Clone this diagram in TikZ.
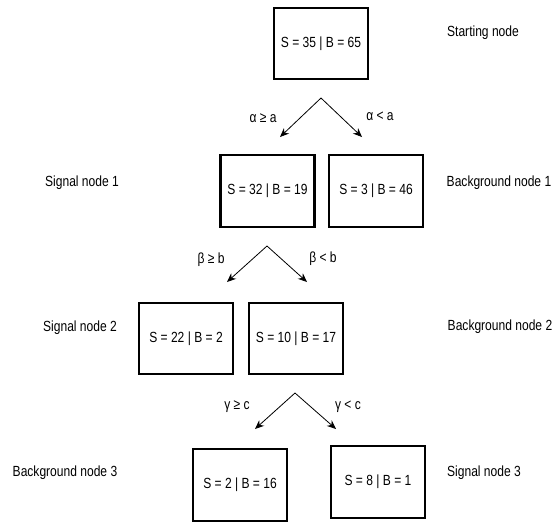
\documentclass[tikz,border=0pt]{standalone}
\usepackage{fontspec}
\setmainfont{Liberation Sans}[FakeStretch=0.82]
\usetikzlibrary{arrows.meta}
\tikzset{
  split/.style={draw,line width=2.4pt,minimum width=94pt,minimum height=71.5pt,inner sep=0pt},
  cut/.style={-{Stealth[length=9pt,width=7.5pt]},line width=0.8pt},
  txt/.style={inner sep=0pt,font=\fontsize{14.7}{16}\selectfont}
}
\begin{document}
\begin{tikzpicture}[x=1pt,y=-1pt,every node/.append style={font=\fontsize{14.7}{16}\selectfont}]
\useasboundingbox (0,0) rectangle (554,523);
% boxes
\node[split] (root) at (321,43.5) {S = 35 | B = 65};
\node[split] (sig1) at (267.5,191) {S = 32 | B = 19};
\node[split] (bkg1) at (376,191) {S = 3 | B = 46};
\node[split] (sig2) at (186,338.5) {S = 22 | B = 2};
\node[split] (bkg2) at (296,338.5) {S = 10 | B = 17};
\node[split] (bkg3) at (240,485) {S = 2 | B = 16};
\node[split] (sig3) at (378,482) {S = 8 | B = 1};
% side labels
\node[txt] (lroot) at (483,33) {Starting node};
\node[txt] (lsig1) at (82,183) {Signal node 1};
\node[txt] (lbkg1) at (499,183) {Background node 1};
\node[txt] (lsig2) at (80,328) {Signal node 2};
\node[txt] (lbkg2) at (500,327) {Background node 2};
\node[txt] (lbkg3) at (65,473) {Background node 3};
\node[txt] (lsig3) at (484,473) {Signal node 3};
% cuts
\coordinate (top1) at (321,98);
\coordinate (lft1) at (280,137);
\coordinate (rgt1) at (362,137);
\coordinate (top2) at (267,246);
\coordinate (lft2) at (227,282);
\coordinate (rgt2) at (307,282);
\coordinate (top3) at (295,393);
\coordinate (lft3) at (255,429);
\coordinate (rgt3) at (336,429);
\foreach \i in {1,2,3} {
  \draw[cut] (top\i) -- (lft\i);
  \draw[cut] (top\i) -- (rgt\i);
}
\node[txt] (ca1) at (263,118) {α ≥ a};
\node[txt] (cb1) at (380,116) {α < a};
\node[txt] (ca2) at (211,260) {β ≥ b};
\node[txt] (cb2) at (323,259) {β < b};
\node[txt] (ca3) at (237,407) {γ ≥ c};
\node[txt] (cb3) at (348,407) {γ < c};
\end{tikzpicture}
\end{document}
